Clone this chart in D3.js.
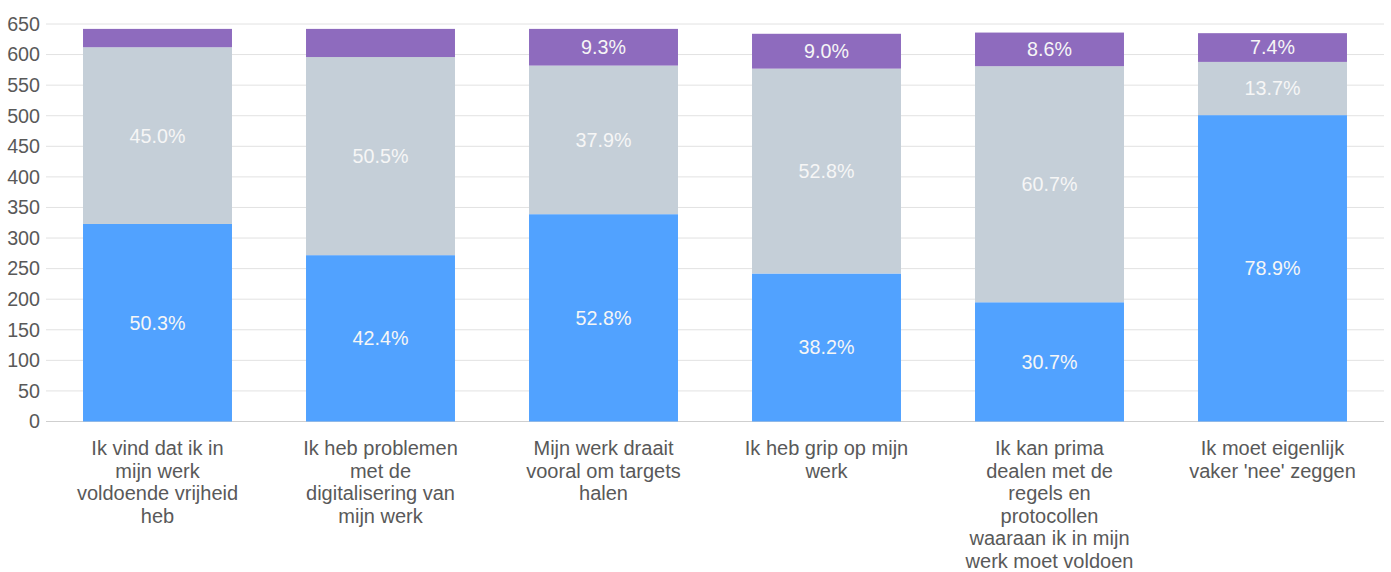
<!DOCTYPE html>
<html>
<head>
<meta charset="utf-8">
<script src="https://cdn.jsdelivr.net/npm/d3@7"></script>
<style>
  body { margin: 0; background: #fff; }
  svg { display: block; font-family: Arial, Helvetica, "Liberation Sans", sans-serif; }
</style>
</head>
<body>
<div id="chart"></div>
<script>
// categorieen (regels zoals in het origineel afgebroken)
var categories = [
  ["Ik vind dat ik in", "mijn werk", "voldoende vrijheid", "heb"],
  ["Ik heb problemen", "met de", "digitalisering van", "mijn werk"],
  ["Mijn werk draait", "vooral om targets", "halen"],
  ["Ik heb grip op mijn", "werk"],
  ["Ik kan prima", "dealen met de", "regels en", "protocollen", "waaraan ik in mijn", "werk moet voldoen"],
  ["Ik moet eigenlijk", "vaker 'nee' zeggen"]
];
// aantallen per reeks
var eens = [323, 272, 339, 242, 195, 501];
var neutraal = [289, 324, 243, 335, 386, 87];
var oneens = [30, 46, 60, 57, 55, 47];
var yTicks = [0, 50, 100, 150, 200, 250, 300, 350, 400, 450, 500, 550, 600, 650];

var keys = ["eens", "neutraal", "oneens"];
var colors = { eens: "#51a2ff", neutraal: "#c5cfd8", oneens: "#8e6bbe" };

var chartWidth = 1391, chartHeight = 572;
var plotLeft = 46, plotRight = 1384, plotTop = 24, plotBottom = 421.5;

var rows = categories.map(function (c, i) {
  return { i: i, eens: eens[i], neutraal: neutraal[i], oneens: oneens[i],
           total: eens[i] + neutraal[i] + oneens[i] };
});

var svg = d3.select("#chart").append("svg")
  .attr("width", chartWidth).attr("height", chartHeight);

var xScale = d3.scaleBand().domain(d3.range(categories.length))
  .range([plotLeft, plotRight]).paddingInner(0.332).paddingOuter(0.166);
var yScale = d3.scaleLinear().domain([0, 650]).range([plotBottom, plotTop]);

// rasterlijnen
svg.append("g").selectAll("line").data(yTicks).enter().append("line")
  .attr("x1", plotLeft).attr("x2", plotRight)
  .attr("y1", function (d) { return yScale(d); })
  .attr("y2", function (d) { return yScale(d); })
  .attr("stroke", function (d) { return d === 0 ? "#cfcfcf" : "#e2e2e2"; })
  .attr("stroke-width", 1);

// y-as
var yAxis = d3.axisLeft(yScale).tickValues(yTicks).tickSize(0).tickPadding(6);
var gy = svg.append("g").attr("transform", "translate(" + plotLeft + ",0)").call(yAxis);
gy.select(".domain").remove();
gy.selectAll("text").attr("fill", "#595959").style("font-size", "19.7px")
  .style("font-family", "Arial, Helvetica, 'Liberation Sans', sans-serif");

// gestapelde staven
var stacked = d3.stack().keys(keys)(rows);
var layers = svg.append("g").selectAll("g").data(stacked).enter().append("g")
  .attr("fill", function (d) { return colors[d.key]; });

layers.selectAll("rect").data(function (d) { return d; }).enter().append("rect")
  .attr("x", function (d) { return xScale(d.data.i); })
  .attr("width", xScale.bandwidth())
  .attr("y", function (d) { return yScale(d[1]); })
  .attr("height", function (d) { return yScale(d[0]) - yScale(d[1]); });

// percentage labels
layers.each(function (layer) {
  d3.select(this).selectAll("text").data(layer.filter(function (d) {
    return (d[1] - d[0]) / d.data.total * 100 >= 7.3;
  })).enter().append("text")
    .attr("x", function (d) { return xScale(d.data.i) + xScale.bandwidth() / 2; })
    .attr("y", function (d) { return (yScale(d[0]) + yScale(d[1])) / 2; })
    .attr("dy", "0.35em")
    .attr("text-anchor", "middle")
    .attr("fill", "#f6f6f6")
    .style("font-size", "19.7px")
    .text(function (d) { return ((d[1] - d[0]) / d.data.total * 100).toFixed(1) + "%"; });
});

// x-as labels
var xl = svg.append("g").selectAll("text").data(categories).enter().append("text")
  .attr("text-anchor", "middle")
  .attr("fill", "#595959")
  .style("font-size", "20px")
  .attr("transform", function (d, i) {
    return "translate(" + (xScale(i) + xScale.bandwidth() / 2) + ",455)";
  });
xl.selectAll("tspan").data(function (d) { return d; }).enter().append("tspan")
  .attr("x", 0)
  .attr("y", function (d, j) { return j * 22.5; })
  .text(function (d) { return d; });
</script>
</body>
</html>
